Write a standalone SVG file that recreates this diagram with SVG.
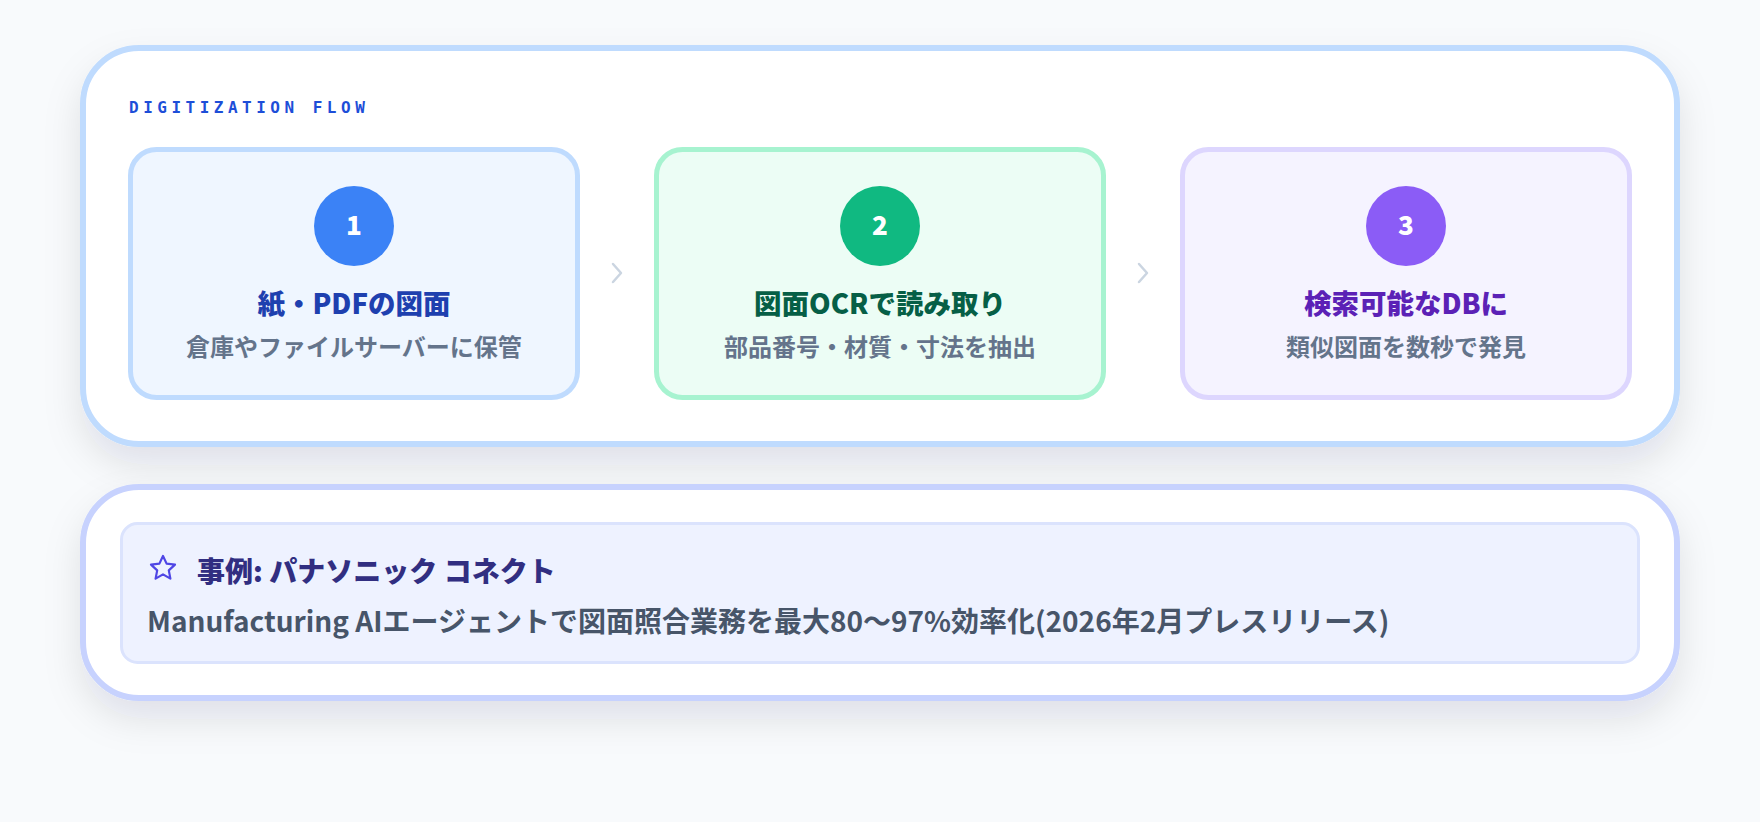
<svg xmlns="http://www.w3.org/2000/svg" width="1760" height="822" viewBox="0 0 1760 822">
<defs>
<filter id="sh" x="-10%" y="-20%" width="120%" height="150%">
<feDropShadow dx="0" dy="18" stdDeviation="18" flood-color="#0f172a" flood-opacity="0.10"/>
</filter>
<style>
.jp{font-family:"Noto Sans CJK JP","Noto Sans",sans-serif;}
.num{font-family:"Noto Sans CJK JP","Noto Sans",sans-serif;font-weight:900;font-size:26px;fill:#ffffff;text-anchor:middle;}
.title{font-family:"Noto Sans CJK JP","Noto Sans",sans-serif;font-weight:900;font-size:27.5px;text-anchor:middle;}
.sub{font-family:"Noto Sans CJK JP","Noto Sans",sans-serif;font-weight:700;font-size:24px;fill:#64748b;text-anchor:middle;}
.chev{fill:none;stroke:#cbd5e1;stroke-width:2.5;stroke-linecap:round;stroke-linejoin:round;}
</style>
</defs>
<rect width="1760" height="822" fill="#f8fafc"/>

<g id="flow-card">
<rect x="83" y="48" width="1594" height="396" rx="56" fill="#ffffff" stroke="#bfdbfe" stroke-width="6" filter="url(#sh)"/>
<text x="129" y="113" font-family="DejaVu Sans Mono,Liberation Mono,monospace" font-weight="700" font-size="16" letter-spacing="4.5" fill="#1d4ed8">DIGITIZATION FLOW</text>
</g>

<g id="step1">
<rect x="130.5" y="149.5" width="447" height="248" rx="26" fill="#eff6ff" stroke="#bfdbfe" stroke-width="5"/>
<circle cx="354" cy="226" r="40" fill="#3b82f6"/>
<text class="num" x="354" y="235">1</text>
<text class="title" x="354" y="314" fill="#1e40af" font-size="26.5">紙・PDFの図面</text>
<text class="sub" x="354" y="356">倉庫やファイルサーバーに保管</text>
</g>

<g id="step2">
<rect x="656.5" y="149.5" width="447" height="248" rx="26" fill="#ecfdf5" stroke="#a7f3d0" stroke-width="5"/>
<circle cx="880" cy="226" r="40" fill="#10b981"/>
<text class="num" x="880" y="235">2</text>
<text class="title" x="880" y="314" fill="#065f46">図面OCRで読み取り</text>
<text class="sub" x="880" y="356">部品番号・材質・寸法を抽出</text>
</g>

<g id="step3">
<rect x="1182.5" y="149.5" width="447" height="248" rx="26" fill="#f5f3ff" stroke="#ddd6fe" stroke-width="5"/>
<circle cx="1406" cy="226" r="40" fill="#8b5cf6"/>
<text class="num" x="1406" y="235">3</text>
<text class="title" x="1406" y="314" fill="#5b21b6">検索可能なDBに</text>
<text class="sub" x="1406" y="356">類似図面を数秒で発見</text>
</g>

<g id="connectors">
<path class="chev" d="M613 264 L621 273 L613 282"/>
<path class="chev" d="M1139 264 L1147 273 L1139 282"/>
</g>

<g id="case-card">
<rect x="83" y="487" width="1594" height="211" rx="56" fill="#ffffff" stroke="#c7d2fe" stroke-width="6" filter="url(#sh)"/>
<rect x="121.5" y="523.5" width="1517" height="139" rx="16" fill="#eef2ff" stroke="#dbe3fd" stroke-width="3"/>
<path d="M163 556 L166.6 563.6 L175 564.6 L168.8 570.4 L170.4 578.6 L163 574.4 L155.6 578.6 L157.2 570.4 L151 564.6 L159.4 563.6 Z" fill="none" stroke="#4f46e5" stroke-width="2.2" stroke-linejoin="round"/>
<text class="jp" x="197" y="582" font-weight="900" font-size="28" fill="#312e81">事例: パナソニック コネクト</text>
<text class="jp" x="147" y="632" font-weight="700" font-size="28" fill="#475569">Manufacturing AIエージェントで図面照合業務を最大80〜97%効率化(2026年2月プレスリリース)</text>
</g>
</svg>
